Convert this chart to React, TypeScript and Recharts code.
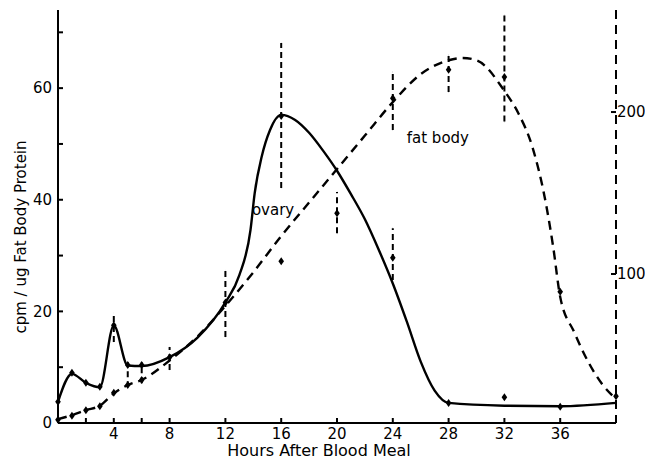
import React from 'react';
import { ComposedChart, Line, Scatter, XAxis, YAxis, ErrorBar, ReferenceDot } from 'recharts';

const FONT = '"DejaVu Sans", sans-serif';

// Smooth hand-drawn curves
const ovaryCurveHours = [0, 1, 2, 3, 4, 5, 6, 8, 10, 12, 13, 13.8, 14.1, 14.6, 15.2, 16, 17, 18, 19, 20, 21, 22, 23, 24, 25, 26, 27, 28, 32, 36, 40];
const ovaryCurveValues = [3.8, 8.8, 7.2, 6.4, 17.5, 10.3, 10.2, 11.8, 15.3, 21.6, 26.5, 34.6, 41.2, 47.7, 52.5, 55.2, 54.3, 52, 48.8, 45.2, 41, 36.5, 31, 25, 18.2, 11, 5.8, 3.6, 3.1, 3.0, 3.6];
const fatCurveHours = [0, 1, 2, 3, 4, 5, 6, 8, 10, 12, 14, 16, 18, 20, 22, 24, 26, 28, 29, 30, 32, 33, 34, 35, 35.5, 36, 37, 38, 39, 40];
const fatCurveValues = [0.7, 1.4, 2.3, 3.1, 5.3, 6.8, 7.7, 11.2, 15.5, 21, 27, 33.5, 39.5, 45.5, 51.5, 57.5, 62.5, 65, 65.4, 65, 59.5, 55.5, 49.5, 39, 31.5, 22.6, 16.3, 11, 7, 4.3];

// Measured points with error bars
const ovaryPointHours = [0, 1, 2, 3, 4, 5, 6, 8, 12, 16, 20, 24, 28, 32, 36];
const ovaryPointValues = [3.8, 9.0, 7.2, 6.5, 17.5, 10.4, 10.4, 11.8, 21.6, 55, 37.6, 29.6, 3.6, 4.6, 2.9];
const ovaryErrLow = [0, 0, 0, 0, 3, 4, 3.3, 2.3, 6.2, 12.9, 3.6, 4, 0, 0, 0];
const ovaryErrHigh = [0, 0, 0, 0, 2.2, 0.5, 0.5, 1.8, 5.7, 13.1, 3.8, 5.3, 0, 0, 0];
const fatPointHours = [0, 1, 2, 3, 4, 5, 6, 16, 24, 28, 32, 36, 40];
const fatPointValues = [0.6, 1.3, 2.3, 3.0, 5.4, 6.8, 7.7, 29, 58.2, 63.3, 62, 23.5, 4.8];
const fatErrLow = [0, 0, 0, 0, 0, 0, 0, 0, 5.7, 4, 8, 0, 0];
const fatErrHigh = [0, 0, 0, 0, 0, 0, 0, 0, 4.7, 2.6, 11, 0, 0];

const xTicks = [2, 4, 6, 8, 12, 16, 20, 24, 28, 32, 36];
const xTickLabels = [4, 8, 12, 16, 20, 24, 28, 32, 36];
const leftTicks = [0, 10, 20, 30, 40, 50, 60, 70];
const leftTickLabels = [0, 20, 40, 60];
const rightTicks = [100, 200];

const annotations = [
  { text: 'ovary', x: 13.9, y: 38.2 },
  { text: 'fat body', x: 25.0, y: 51 },
];

const ovaryCurve = ovaryCurveHours.map((h, i) => ({ x: h, y: ovaryCurveValues[i] }));
const fatCurve = fatCurveHours.map((h, i) => ({ x: h, y: fatCurveValues[i] }));
const ovaryPoints = ovaryPointHours.map((h, i) => ({ x: h, y: ovaryPointValues[i], err: [ovaryErrLow[i], ovaryErrHigh[i]] }));
const fatPoints = fatPointHours.map((h, i) => ({ x: h, y: fatPointValues[i], err: [fatErrLow[i], fatErrHigh[i]] }));

const Diamond = (props: any) => {
  const { cx, cy } = props;
  if (cx == null || cy == null) return null;
  return <path d={`M${cx},${cy - 4} L${cx + 2.8},${cy} L${cx},${cy + 4} L${cx - 2.8},${cy} Z`} fill="#000" />;
};

const tickStyle = { fill: '#000', fontSize: 15, fontFamily: FONT };
const lineStyle = { stroke: '#000', strokeWidth: 2 };

export default function App() {
  return (
    <div style={{ position: 'absolute', left: 0, top: 0, background: '#fff' }}>
      <ComposedChart width={645} height={459} margin={{ top: 10, right: 0, bottom: 0, left: 0 }}>
        <XAxis
          dataKey="x"
          type="number"
          domain={[0, 40]}
          ticks={xTicks}
          height={36}
          tickSize={-5}
          tickMargin={10}
          tickFormatter={(v: number) => (xTickLabels.includes(v) ? String(v) : '')}
          tick={tickStyle}
          axisLine={lineStyle}
          tickLine={lineStyle}
          label={{
            content: () => (
              <text x={319} y={456} textAnchor="middle" fontSize={16} fontFamily={FONT} fill="#000">
                Hours After Blood Meal
              </text>
            ),
          }}
        />
        <YAxis
          yAxisId="left"
          type="number"
          domain={[0, 74]}
          ticks={leftTicks}
          width={58}
          tickSize={-5}
          tickMargin={11}
          tickFormatter={(v: number) => (leftTickLabels.includes(v) ? String(v) : '')}
          tick={tickStyle}
          axisLine={lineStyle}
          tickLine={lineStyle}
          label={{
            content: () => (
              <text
                x={21}
                y={237}
                transform="rotate(-90 21 237)"
                textAnchor="middle"
                dominantBaseline="central"
                fontSize={15}
                fontFamily={FONT}
                fill="#000"
              >
                cpm / ug Fat Body Protein
              </text>
            ),
          }}
        />
        <YAxis
          yAxisId="right"
          orientation="right"
          type="number"
          domain={[8, 263]}
          allowDataOverflow
          ticks={rightTicks}
          width={29}
          tickSize={-5}
          tickMargin={6}
          tick={tickStyle}
          axisLine={{ stroke: '#000', strokeWidth: 2, strokeDasharray: '9 6' }}
          tickLine={lineStyle}
        />
        <Line
          yAxisId="left"
          data={fatCurve}
          dataKey="y"
          type="monotone"
          stroke="#000"
          strokeWidth={2.4}
          strokeDasharray="9 6"
          dot={false}
          activeDot={false}
          isAnimationActive={false}
        />
        <Line
          yAxisId="left"
          data={ovaryCurve}
          dataKey="y"
          type="monotone"
          stroke="#000"
          strokeWidth={2.4}
          dot={false}
          activeDot={false}
          isAnimationActive={false}
        />
        <Scatter yAxisId="left" data={ovaryPoints} dataKey="y" shape={<Diamond />} isAnimationActive={false}>
          <ErrorBar dataKey="err" direction="y" width={0} stroke="#000" strokeWidth={2} strokeDasharray="6 4" />
        </Scatter>
        <Scatter yAxisId="left" data={fatPoints} dataKey="y" shape={<Diamond />} isAnimationActive={false}>
          <ErrorBar dataKey="err" direction="y" width={0} stroke="#000" strokeWidth={2} strokeDasharray="6 4" />
        </Scatter>
        {annotations.map((a) => (
          <ReferenceDot
            key={a.text}
            yAxisId="left"
            x={a.x}
            y={a.y}
            r={0}
            ifOverflow="visible"
            label={{
              content: (p: any) => {
                const vb = p.viewBox || {};
                const cx = vb.cx != null ? vb.cx : vb.x + (vb.width || 0) / 2;
                const cy = vb.cy != null ? vb.cy : vb.y + (vb.height || 0) / 2;
                return (
                  <text x={cx} y={cy} dominantBaseline="central" fontSize={15} fontFamily={FONT} fill="#000">
                    {a.text}
                  </text>
                );
              },
            }}
          />
        ))}
      </ComposedChart>
    </div>
  );
}
